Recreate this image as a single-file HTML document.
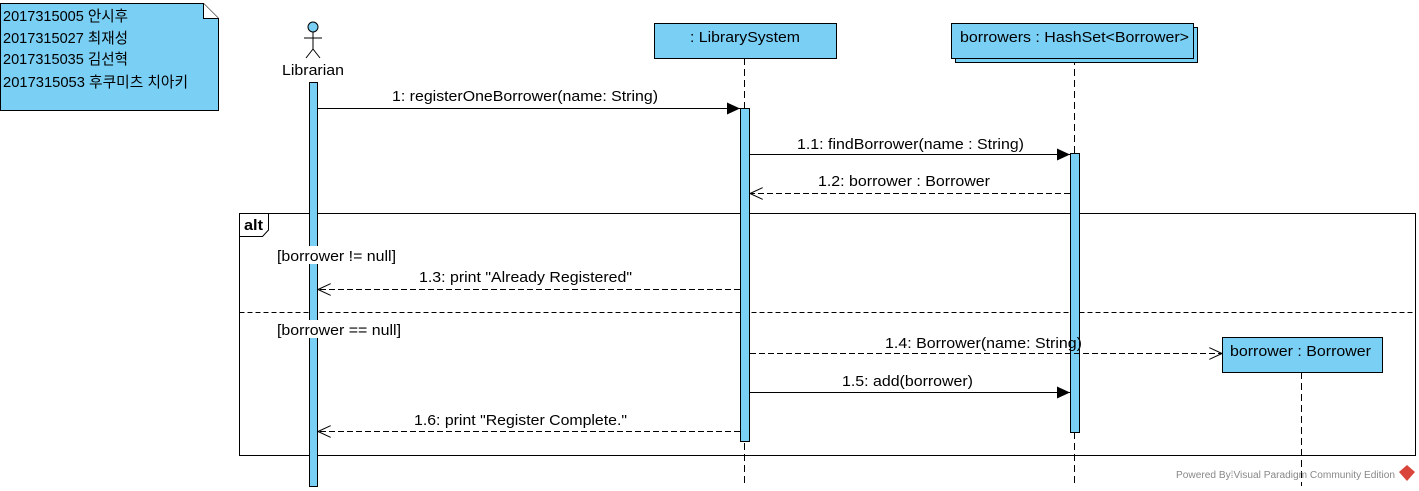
<!DOCTYPE html>
<html><head><meta charset="utf-8"><style>
html,body{margin:0;padding:0;background:#fff;width:1419px;height:491px;overflow:hidden}
svg text{font-family:"Liberation Sans","Noto Sans CJK KR",sans-serif;font-size:15px;fill:#000}
</style></head><body>
<svg width="1419" height="491" xmlns="http://www.w3.org/2000/svg">
<defs>
<marker id="fa" markerWidth="14" markerHeight="12" refX="13" refY="6" orient="auto" markerUnits="userSpaceOnUse"><path d="M0,0 L13,6 L0,12 z" fill="#000"/></marker>
<marker id="oa" markerWidth="14" markerHeight="12" refX="13" refY="6" orient="auto" markerUnits="userSpaceOnUse"><path d="M0,0 L13,6 L0,12" fill="none" stroke="#000" stroke-width="1"/></marker>
</defs>
<!-- note -->
<path d="M0.5,3.5 H203.5 L218.5,18.5 V110.5 H0.5 Z" fill="#7ACFF5" stroke="#000"/>
<path d="M203.5,3.5 V18.5 H218.5" fill="#fff" stroke="#000"/>
<text x="3" y="21" textLength="125" lengthAdjust="spacingAndGlyphs">2017315005 안시후</text>
<text x="3" y="43" textLength="125" lengthAdjust="spacingAndGlyphs">2017315027 최재성</text>
<text x="3" y="64" textLength="125" lengthAdjust="spacingAndGlyphs">2017315035 김선혁</text>
<text x="3" y="87" textLength="185" lengthAdjust="spacingAndGlyphs">2017315053 후쿠미츠 치아키</text>
<!-- actor -->
<circle cx="313" cy="27" r="5" fill="#7ACFF5" stroke="#000"/>
<path d="M313,32 V49 M304,38 H322 M313,49 L306,58 M313,49 L320,58" stroke="#000" fill="none"/>
<text x="282" y="75" textLength="62" lengthAdjust="spacingAndGlyphs">Librarian</text>
<!-- lifelines -->
<path d="M744.5,58 V486 M1074.5,58 V486 M1301.5,372 V486" stroke="#000" stroke-dasharray="7,4"/>
<!-- heads -->
<rect x="654.5" y="23.5" width="182" height="35" fill="#7ACFF5" stroke="#000"/>
<text x="690" y="42" textLength="110" lengthAdjust="spacingAndGlyphs">: LibrarySystem</text>
<rect x="955.5" y="27.5" width="242" height="35" fill="#7ACFF5" stroke="#000"/>
<rect x="951.5" y="23.5" width="242" height="35" fill="#7ACFF5" stroke="#000"/>
<text x="960" y="42" textLength="229" lengthAdjust="spacingAndGlyphs">borrowers : HashSet&lt;Borrower&gt;</text>
<!-- alt frame -->
<rect x="239.5" y="213.5" width="1176" height="242" fill="none" stroke="#000"/>
<path d="M239.5,236.5 H262.5 L268.5,230 V213.5" fill="none" stroke="#000"/>
<text x="244" y="230" textLength="19" lengthAdjust="spacingAndGlyphs" style="font-weight:bold">alt</text>
<path d="M239.5,312.5 H1415" stroke="#000" stroke-dasharray="5,3"/>
<!-- activations -->
<rect x="309.5" y="82.5" width="8" height="404" fill="#7ACFF5" stroke="#000"/>
<rect x="740.5" y="108.5" width="9" height="333" fill="#7ACFF5" stroke="#000"/>
<rect x="1070.5" y="153.5" width="9" height="279" fill="#7ACFF5" stroke="#000"/>
<!-- guards -->
<rect x="276" y="246" width="125" height="18" fill="#fff"/>
<text x="277" y="261" textLength="119" lengthAdjust="spacingAndGlyphs">[borrower != null]</text>
<rect x="276" y="320" width="130" height="18" fill="#fff"/>
<text x="277" y="335" textLength="124" lengthAdjust="spacingAndGlyphs">[borrower == null]</text>
<!-- borrower object -->
<rect x="1222.5" y="337.5" width="160" height="35" fill="#7ACFF5" stroke="#000"/>
<text x="1230" y="356" textLength="141" lengthAdjust="spacingAndGlyphs">borrower : Borrower</text>
<!-- messages -->
<line x1="318" y1="108.5" x2="740" y2="108.5" stroke="#000" marker-end="url(#fa)"/>
<text x="392" y="101" textLength="266" lengthAdjust="spacingAndGlyphs">1: registerOneBorrower(name: String)</text>
<line x1="750" y1="154.5" x2="1070" y2="154.5" stroke="#000" marker-end="url(#fa)"/>
<text x="797" y="149" textLength="227" lengthAdjust="spacingAndGlyphs">1.1: findBorrower(name : String)</text>
<line x1="1070" y1="193.5" x2="750" y2="193.5" stroke="#000" stroke-dasharray="6,3" marker-end="url(#oa)"/>
<text x="818" y="186" textLength="172" lengthAdjust="spacingAndGlyphs">1.2: borrower : Borrower</text>
<line x1="740" y1="289.5" x2="318" y2="289.5" stroke="#000" stroke-dasharray="6,3" marker-end="url(#oa)"/>
<text x="419" y="282" textLength="213" lengthAdjust="spacingAndGlyphs">1.3: print "Already Registered"</text>
<line x1="750" y1="353.5" x2="1222" y2="353.5" stroke="#000" stroke-dasharray="6,3" marker-end="url(#oa)"/>
<text x="885" y="348" textLength="197" lengthAdjust="spacingAndGlyphs">1.4: Borrower(name: String)</text>
<line x1="750" y1="392.5" x2="1070" y2="392.5" stroke="#000" marker-end="url(#fa)"/>
<text x="842" y="386" textLength="131" lengthAdjust="spacingAndGlyphs">1.5: add(borrower)</text>
<line x1="740" y1="431.5" x2="318" y2="431.5" stroke="#000" stroke-dasharray="6,3" marker-end="url(#oa)"/>
<text x="414" y="425" textLength="213" lengthAdjust="spacingAndGlyphs">1.6: print "Register Complete."</text>
<!-- footer -->
<text x="1176" y="478" textLength="219" lengthAdjust="spacingAndGlyphs" style="font-size:10px;fill:#888">Powered By⁞Visual Paradigm Community Edition</text>
<path d="M1407,465 L1415,472 L1407,481 L1399,472 Z" fill="#d9443b"/>
</svg>
</body></html>
